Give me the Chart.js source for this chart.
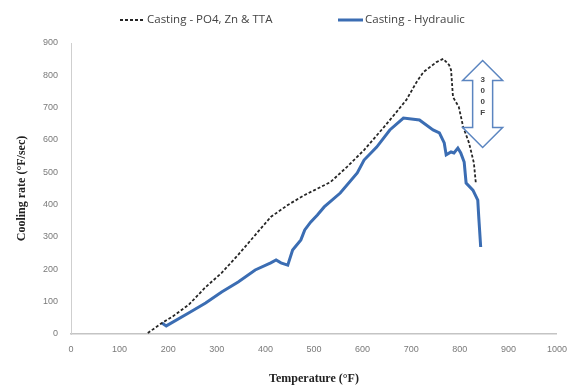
<!DOCTYPE html>
<html>
<head>
<meta charset="utf-8">
<script src="https://cdn.jsdelivr.net/npm/chart.js@4.4.1/dist/chart.umd.min.js"></script>
<style>
    html, body { margin: 0; padding: 0; background: #fff; }
    #wrap { width: 577px; height: 387px; }
</style>
</head>
<body>
<div id="wrap"><canvas id="coolingChart"></canvas></div>
<script>
// Cooling rate vs temperature
const poTemp = [158, 187, 208, 242, 277, 310, 344, 379, 411, 446, 481, 501, 534, 568, 603, 644, 670, 690, 711, 725, 752, 766, 778, 782, 786, 798, 807, 819, 829, 833];
const poRate = [3, 34, 53, 90, 145, 189, 245, 306, 362, 399, 430, 445, 470, 517, 569, 640, 687, 724, 779, 810, 841, 851, 832, 817, 733, 702, 640, 591, 529, 467];

const hyTemp = [187, 196, 242, 277, 310, 344, 379, 411, 422, 432, 446, 456, 473, 481, 493, 507, 521, 554, 589, 603, 629, 656, 684, 717, 745, 758, 768, 772, 782, 788, 796, 802, 809, 813, 827, 837, 839, 843];
const hyRate = [34, 25, 65, 96, 130, 161, 198, 220, 229, 220, 213, 260, 291, 322, 346, 368, 393, 436, 498, 538, 578, 631, 668, 662, 631, 622, 591, 554, 563, 560, 575, 560, 532, 467, 445, 414, 362, 269];

const xTicks = [0, 100, 200, 300, 400, 500, 600, 700, 800, 900, 1000];
const yTicks = [0, 100, 200, 300, 400, 500, 600, 700, 800, 900];

const seriesLabels = ['Casting - PO4, Zn & TTA', 'Casting - Hydraulic'];

// double arrow marking the 300 F gap
const arrowTemp = 847;
const arrowLow = 577;
const arrowHigh = 846;
const arrowText = ['3', '0', '0', 'F'];

function toPoints(xs, ys) {
    return xs.map((x, i) => ({ x: x, y: ys[i] }));
}

const arrowPlugin = {
    id: 'arrowNote',
    afterDatasetsDraw(chart) {
        const ctx = chart.ctx;
        const xs = chart.scales.x, ys = chart.scales.y;
        const cx = xs.getPixelForValue(arrowTemp);
        const top = ys.getPixelForValue(arrowHigh);
        const bot = ys.getPixelForValue(arrowLow);
        const headW = 20, shaftW = 10, headH = 20;
        ctx.save();
        ctx.beginPath();
        ctx.moveTo(cx, top);
        ctx.lineTo(cx + headW, top + headH);
        ctx.lineTo(cx + shaftW, top + headH);
        ctx.lineTo(cx + shaftW, bot - headH);
        ctx.lineTo(cx + headW, bot - headH);
        ctx.lineTo(cx, bot);
        ctx.lineTo(cx - headW, bot - headH);
        ctx.lineTo(cx - shaftW, bot - headH);
        ctx.lineTo(cx - shaftW, top + headH);
        ctx.lineTo(cx - headW, top + headH);
        ctx.closePath();
        ctx.fillStyle = 'rgba(255,255,255,0.95)';
        ctx.fill();
        ctx.strokeStyle = '#5b85c0';
        ctx.lineWidth = 1.5;
        ctx.stroke();
        ctx.fillStyle = '#444';
        ctx.font = 'bold 8px "Liberation Sans"';
        ctx.textAlign = 'center';
        ctx.textBaseline = 'middle';
        arrowText.forEach((ch, i) => {
            ctx.fillText(ch, cx, top + 19 + i * 11);
        });
        ctx.restore();
    }
};

const legendPlugin = {
    id: 'topLegend',
    afterDraw(chart) {
        const ctx = chart.ctx;
        const starts = [120, 338];
        ctx.save();
        ctx.font = '11.5px "Open Sans"';
        ctx.textBaseline = 'middle';
        chart.data.datasets.forEach((ds, i) => {
            const x = starts[i];
            const y = 20;
            ctx.beginPath();
            ctx.setLineDash(ds.borderDash || []);
            ctx.strokeStyle = ds.borderColor;
            ctx.lineWidth = ds.borderWidth;
            ctx.moveTo(x, y);
            ctx.lineTo(x + 25, y);
            ctx.stroke();
            ctx.setLineDash([]);
            ctx.fillStyle = '#444';
            ctx.fillText(ds.label, x + 27, y);
        });
        ctx.restore();
    }
};

const ctx = document.getElementById('coolingChart').getContext('2d');
const coolingChart = new Chart(ctx, {
    type: 'line',
    data: {
        datasets: [{
            label: seriesLabels[0],
            data: toPoints(poTemp, poRate),
            borderColor: '#262626',
            borderWidth: 1.8,
            borderDash: [3, 2],
            pointRadius: 0,
            tension: 0,
            fill: false
        }, {
            label: seriesLabels[1],
            data: toPoints(hyTemp, hyRate),
            borderColor: '#3b6db3',
            borderWidth: 3,
            pointRadius: 0,
            tension: 0,
            fill: false
        }]
    },
    options: {
        responsive: true,
        maintainAspectRatio: false,
        animation: false,
        layout: {
            padding: { top: 43, right: 15, bottom: 0, left: 0 }
        },
        plugins: {
            legend: { display: false },
            tooltip: { enabled: false }
        },
        scales: {
            x: {
                type: 'linear',
                min: 0,
                max: 1000,
                afterBuildTicks: scale => { scale.ticks = xTicks.map(v => ({ value: v })); },
                afterFit: scale => { scale.height = 53; },
                grid: { display: false, drawTicks: false },
                border: { display: true, color: '#c4c4c4', width: 1.5 },
                ticks: {
                    padding: 10,
                    maxRotation: 0,
                    autoSkip: false,
                    color: '#7a7a7a',
                    font: { family: '"Liberation Sans"', size: 9 },
                    callback: v => String(v)
                },
                title: {
                    display: true,
                    text: 'Temperature (°F)',
                    color: '#222',
                    font: { family: '"Liberation Serif"', size: 12, weight: 'bold' },
                    padding: { top: 0, bottom: 1 }
                }
            },
            y: {
                min: 0,
                max: 900,
                afterBuildTicks: scale => { scale.ticks = yTicks.map(v => ({ value: v })); },
                afterFit: scale => { scale.width = 71; },
                grid: { display: false, drawTicks: false },
                border: { display: true, color: '#cfcfcf', width: 1 },
                ticks: {
                    padding: 13,
                    color: '#7a7a7a',
                    font: { family: '"Liberation Sans"', size: 9 },
                    callback: v => String(v)
                },
                title: {
                    display: true,
                    text: 'Cooling rate (°F/sec)',
                    color: '#222',
                    font: { family: '"Liberation Serif"', size: 12, weight: 'bold' },
                    padding: { top: 15, bottom: 0 }
                }
            }
        }
    },
    plugins: [arrowPlugin, legendPlugin]
});
</script>
</body>
</html>
